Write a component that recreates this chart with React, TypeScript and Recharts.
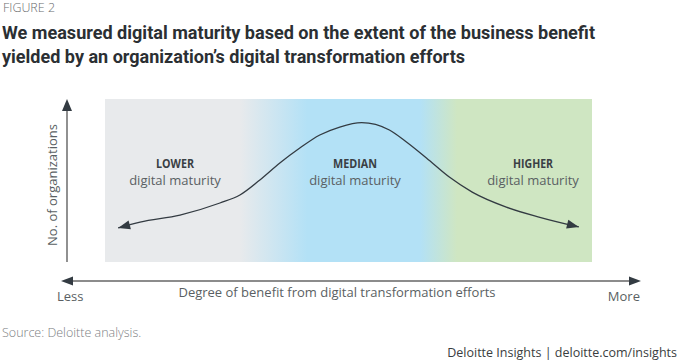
import { ComposedChart, Line, XAxis, YAxis, ReferenceArea } from "recharts";

// degree of benefit (x, 0-100) and relative no. of organizations (y, 0-100)
const benefit = [2.7, 7.2, 15.4, 23.6, 27.7, 31.8, 35.9, 40.0, 44.1, 48.2, 52.7, 58.4, 61.9, 66.0, 70.7, 75.4, 82.4, 89.1, 97.3];
const organizations = [20.9, 24.5, 28.8, 36.2, 41.1, 50.3, 60.7, 69.9, 77.9, 82.8, 85.5, 81.0, 73.6, 63.8, 52.1, 42.9, 33.7, 27.6, 21.5];

const zoneTitles = ["LOWER", "MEDIAN", "HIGHER"];
const zoneSubtitle = "digital maturity";
const titleLines = [
  "We measured digital maturity based on the extent of the business benefit",
  "yielded by an organization’s digital transformation efforts",
];

const curveData = benefit.map((x, i) => ({ x, y: organizations[i] }));

const W = 680;
const H = 362;
const MARGIN = { top: 99, right: 88, bottom: 100, left: 105 };
const INK = "#333b42";
const TEXT_GREY = "#5a5f63";
const SANS = "'Open Sans', 'Noto Sans', sans-serif";
const HEAD = "Roboto, 'Open Sans', sans-serif";

const ArrowDot = (props: any) => {
  const { cx, cy, index, points } = props;
  const last = curveData.length - 1;
  if (index !== 0 && index !== last) return <g key={`dot-${index}`} />;
  const nb = points?.[index === 0 ? 1 : last - 1];
  let ang = index === 0 ? Math.PI - 0.27 : 0.27;
  if (nb) ang = Math.atan2(cy - nb.y, cx - nb.x);
  const len = 12;
  const half = 4.5;
  const bx = cx - len * Math.cos(ang);
  const by = cy - len * Math.sin(ang);
  const px = -Math.sin(ang) * half;
  const py = Math.cos(ang) * half;
  return (
    <polygon
      key={`dot-${index}`}
      points={`${cx},${cy} ${bx + px},${by + py} ${bx - px},${by - py}`}
      fill={INK}
    />
  );
};

const Title = () => (
  <svg width={W} height={70} style={{ position: "absolute", left: 0, top: 0 }}>
    <text x={3} y={12} fontFamily={SANS} fontSize={12.5} fontWeight={300} fill="#6b6e70" textLength={52} lengthAdjust="spacingAndGlyphs">
      FIGURE 2
    </text>
    {titleLines.map((line, i) => (
      <text
        key={i}
        x={2}
        y={39 + i * 24}
        fontFamily={HEAD}
        fontWeight={700}
        fontSize={19}
        fill="#2b2f33"
        textLength={i === 0 ? 593 : 463}
        lengthAdjust="spacingAndGlyphs"
      >
        {line}
      </text>
    ))}
  </svg>
);

const Overlay = () => {
  const zoneX = [175, 355, 533];
  const zoneW = [38, 44, 40];
  return (
    <svg
      width={W}
      height={H}
      style={{ position: "absolute", left: 0, top: 0, pointerEvents: "none" }}
    >
      {/* y axis */}
      <line x1={67} y1={262} x2={67} y2={110} stroke="#555" strokeWidth={1.3} />
      <polygon points="67,99 62,111 72,111" fill={INK} />
      {/* x axis, double headed */}
      <line x1={72} y1={281} x2={631} y2={281} stroke="#666" strokeWidth={1.3} />
      <polygon points="61,281 73,276.5 73,285.5" fill={INK} />
      <polygon points="641,281 629,276.5 629,285.5" fill={INK} />

      <text
        x={57}
        y={185}
        transform="rotate(-90 57 185)"
        textAnchor="middle"
        fontFamily={SANS}
        fontSize={13}
        fill={TEXT_GREY}
      >
        No. of organizations
      </text>
      <text x={57} y={301} fontFamily={SANS} fontSize={13} fill={TEXT_GREY}>
        Less
      </text>
      <text x={640} y={301} textAnchor="end" fontFamily={SANS} fontSize={13} fill={TEXT_GREY}>
        More
      </text>
      <text x={337} y={297} textAnchor="middle" fontFamily={SANS} fontSize={13} fill={TEXT_GREY}>
        Degree of benefit from digital transformation efforts
      </text>

      {zoneTitles.map((t, i) => (
        <g key={t}>
          <text
            x={zoneX[i] - zoneW[i] / 2}
            y={168}
            fontFamily={SANS}
            fontWeight={700}
            fontSize={12.5}
            fill="#3a3f44"
            textLength={zoneW[i]}
            lengthAdjust="spacingAndGlyphs"
          >
            {t}
          </text>
          <text
            x={zoneX[i]}
            y={185}
            textAnchor="middle"
            fontFamily={SANS}
            fontSize={13}
            fill={TEXT_GREY}
          >
            {zoneSubtitle}
          </text>
        </g>
      ))}
    </svg>
  );
};

export default function App() {
  return (
    <div
      style={{
        position: "absolute",
        left: 0,
        top: 0,
        width: W,
        height: H,
        background: "#fff",
        overflow: "hidden",
      }}
    >
      <Title />

      <div style={{ position: "absolute", left: 0, top: 0 }}>
        <ComposedChart width={W} height={H} data={curveData} margin={MARGIN}>
          <defs>
            <linearGradient id="maturityBand" x1="0" y1="0" x2="1" y2="0">
              <stop offset="0%" stopColor="#e8eaec" />
              <stop offset="27.7%" stopColor="#e8eaec" />
              <stop offset="41.5%" stopColor="#b3e1f6" />
              <stop offset="64.7%" stopColor="#b3e1f6" />
              <stop offset="72.3%" stopColor="#cfe6c2" />
              <stop offset="100%" stopColor="#cfe6c2" />
            </linearGradient>
          </defs>
          <XAxis dataKey="x" type="number" domain={[0, 100]} hide />
          <YAxis type="number" domain={[0, 100]} hide />
          <ReferenceArea
            x1={0}
            x2={100}
            y1={0}
            y2={100}
            fill="url(#maturityBand)"
            fillOpacity={1}
            stroke="none"
          />
          <Line
            type="monotone"
            dataKey="y"
            stroke={INK}
            strokeWidth={1.3}
            dot={ArrowDot}
            activeDot={false}
            isAnimationActive={false}
          />
        </ComposedChart>
      </div>

      <Overlay />

      <div
        style={{
          position: "absolute",
          left: 2,
          top: 324,
          fontFamily: SANS,
          fontSize: 12.5,
          fontWeight: 300,
          color: "#7d8083",
        }}
      >
        Source: Deloitte analysis.
      </div>
      <div
        style={{
          position: "absolute",
          right: 3,
          top: 344,
          fontFamily: SANS,
          fontSize: 12.5,
          color: "#3a3d40",
        }}
      >
        Deloitte Insights | deloitte.com/insights
      </div>
    </div>
  );
}
